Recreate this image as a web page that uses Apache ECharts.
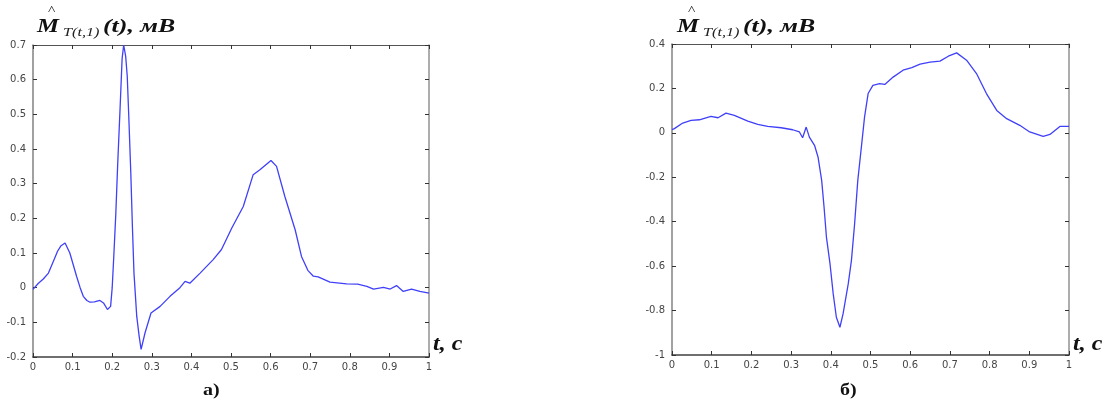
<!DOCTYPE html>
<html>
<head>
<meta charset="utf-8">
<script src="https://cdn.jsdelivr.net/npm/echarts@6/dist/echarts.min.js"></script>
<style>
  html, body { margin: 0; padding: 0; background: #fff; }
  #chart { width: 1104px; height: 406px; }
</style>
</head>
<body>
<div id="chart"></div>
<script>
// Panel (а): estimated signal, time in seconds and amplitude in mV
const tA = [0, 0.013, 0.026, 0.039, 0.051, 0.062, 0.070, 0.081, 0.093, 0.110, 0.119, 0.127, 0.136,
  0.144, 0.155, 0.169, 0.178, 0.188, 0.196, 0.200, 0.204, 0.209, 0.214, 0.220, 0.225, 0.229,
  0.234, 0.238, 0.242, 0.247, 0.251, 0.255, 0.262, 0.268, 0.273, 0.283, 0.298, 0.321, 0.346,
  0.371, 0.384, 0.396, 0.422, 0.455, 0.476, 0.502, 0.531, 0.556, 0.573, 0.601, 0.615, 0.636,
  0.662, 0.678, 0.694, 0.708, 0.720, 0.750, 0.792, 0.820, 0.843, 0.860, 0.885, 0.902, 0.918,
  0.935, 0.956, 0.977, 1.0];
const vA = [-0.005, 0.012, 0.025, 0.042, 0.075, 0.105, 0.120, 0.129, 0.100, 0.033, 0.000, -0.025, -0.037,
  -0.042, -0.041, -0.037, -0.044, -0.063, -0.054, 0.000, 0.090, 0.210, 0.360, 0.520, 0.660, 0.700,
  0.668, 0.610, 0.490, 0.330, 0.177, 0.042, -0.083, -0.140, -0.178, -0.130, -0.073, -0.054, -0.025,
  0.000, 0.018, 0.013, 0.042, 0.081, 0.110, 0.172, 0.234, 0.326, 0.340, 0.367, 0.350, 0.263,
  0.167, 0.090, 0.050, 0.033, 0.031, 0.016, 0.011, 0.010, 0.004, -0.004, 0.001, -0.004, 0.006,
  -0.011, -0.004, -0.011, -0.016];

// Panel (б)
const tB = [0, 0.006, 0.027, 0.048, 0.069, 0.098, 0.116, 0.136, 0.157, 0.191, 0.216, 0.241, 0.275,
  0.304, 0.321, 0.329, 0.338, 0.346, 0.359, 0.368, 0.377, 0.383, 0.389, 0.398, 0.406, 0.414,
  0.423, 0.431, 0.444, 0.452, 0.460, 0.468, 0.477, 0.485, 0.494, 0.506, 0.523, 0.536, 0.557,
  0.582, 0.604, 0.625, 0.650, 0.675, 0.696, 0.717, 0.742, 0.767, 0.792, 0.818, 0.843, 0.876,
  0.901, 0.935, 0.952, 0.977, 1.0];
const vB = [0.015, 0.019, 0.044, 0.056, 0.059, 0.074, 0.068, 0.089, 0.079, 0.053, 0.038, 0.029, 0.023,
  0.014, 0.004, -0.022, 0.026, -0.019, -0.056, -0.110, -0.214, -0.334, -0.469, -0.589, -0.724, -0.830,
  -0.875, -0.814, -0.679, -0.574, -0.409, -0.214, -0.064, 0.071, 0.177, 0.214, 0.222, 0.218, 0.251,
  0.282, 0.294, 0.309, 0.318, 0.323, 0.345, 0.360, 0.327, 0.267, 0.177, 0.101, 0.064, 0.034,
  0.004, -0.016, -0.007, 0.029, 0.029];

// Axis ranges and tick steps
const xRange = [0, 1], xStep = 0.1;
const yRangeA = [-0.2, 0.7], yStepA = 0.1;
const yRangeB = [-1, 0.4], yStepB = 0.2;

// Texts
const captions = ['а)', 'б)'];
const yTitleMain = 'M', yTitleSub = 'T(t,1)', yTitleTail = '(t), мВ';
const xTitle = 't, c';

const zip = (xs, ys) => xs.map((x, i) => [x, ys[i]]);

const labelStyle = { fontFamily: 'DejaVu Sans', fontSize: 10, color: '#454545' };
const serif = 'Liberation Serif';
const traceColor = '#4040f8';

function xAxes(gridIndex) {
  const base = {
    type: 'value', gridIndex, min: xRange[0], max: xRange[1], interval: xStep,
    splitLine: { show: false },
    axisTick: { inside: true, length: 4, lineStyle: { color: '#333' } }
  };
  return [
    Object.assign({}, base, {
      position: 'bottom',
      axisLine: { onZero: false, lineStyle: { color: '#404040', width: 1.6 } },
      axisLabel: Object.assign({ margin: 5 }, labelStyle)
    }),
    Object.assign({}, base, {
      position: 'top',
      axisLine: { onZero: false, lineStyle: { color: '#555', width: 1.2 } },
      axisLabel: { show: false }
    })
  ];
}

function yAxes(gridIndex, range, step) {
  const base = {
    type: 'value', gridIndex, min: range[0], max: range[1], interval: step,
    splitLine: { show: false },
    axisTick: { inside: true, length: 4, lineStyle: { color: '#333' } }
  };
  return [
    Object.assign({}, base, {
      position: 'left',
      axisLine: { onZero: false, lineStyle: { color: '#8a8a8a', width: 1.6 } },
      axisLabel: Object.assign({ margin: 7 }, labelStyle)
    }),
    Object.assign({}, base, {
      position: 'right',
      axisLine: { onZero: false, lineStyle: { color: '#999', width: 1.6 } },
      axisLabel: { show: false }
    })
  ];
}

// A text element placed at (x, y) by its top-left corner, stretched horizontally
function txt(x, y, text, style, sx) {
  return {
    type: 'text', x, y, scaleX: sx || 1,
    style: Object.assign({ text, verticalAlign: 'top', align: 'left' }, style)
  };
}

function panelTexts(dx, capX) {
  const bi = { fontFamily: serif, fontWeight: 'bold', fontStyle: 'italic', fill: '#111' };
  return [
    txt(37 + dx, 18, yTitleMain, Object.assign({ fontSize: 19 }, bi), 1.3),
    txt(48 + dx, 4, '^', { fontFamily: serif, fontSize: 13, fill: '#222' }, 1.2),
    txt(63 + dx, 27, yTitleSub, { fontFamily: serif, fontStyle: 'italic', fontSize: 12, fill: '#222' }, 1.35),
    txt(103 + dx, 18, yTitleTail, Object.assign({ fontSize: 19 }, bi), 1.36),
    txt(433 + dx, 335, xTitle, Object.assign({ fontSize: 20 }, bi), 1.2),
    txt(capX, 383, captions[dx ? 1 : 0], { fontFamily: serif, fontWeight: 'bold', fontSize: 16, fill: '#111' }, 1.25)
  ];
}

const chart = echarts.init(document.getElementById('chart'), null, { renderer: 'canvas' });
chart.setOption({
  animation: false,
  backgroundColor: '#fff',
  grid: [
    { left: 33, right: 675, top: 45, bottom: 49 },
    { left: 672, right: 35, top: 44, bottom: 51 }
  ],
  xAxis: [...xAxes(0), ...xAxes(1)],
  yAxis: [...yAxes(0, yRangeA, yStepA), ...yAxes(1, yRangeB, yStepB)],
  series: [
    { type: 'line', xAxisIndex: 0, yAxisIndex: 0, data: zip(tA, vA), showSymbol: false, smooth: false,
      lineStyle: { color: traceColor, width: 1.3 } },
    { type: 'line', xAxisIndex: 2, yAxisIndex: 2, data: zip(tB, vB), showSymbol: false, smooth: false,
      lineStyle: { color: traceColor, width: 1.3 } }
  ],
  graphic: [...panelTexts(0, 203), ...panelTexts(640, 840)]
});
</script>
</body>
</html>
